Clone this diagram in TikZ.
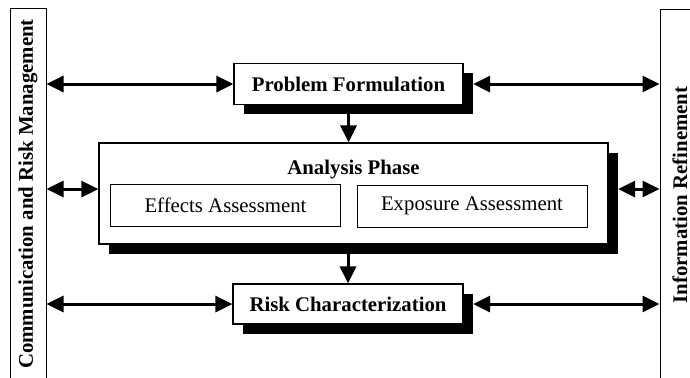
\documentclass[tikz,border=0pt]{standalone}
\usepackage{fontspec}
\setmainfont{Liberation Serif}
\usetikzlibrary{arrows.meta, positioning, calc, shadows}

\begin{document}
\begin{tikzpicture}[
    x=0.5pt, y=-0.5pt,
    every node/.style={font=\fontsize{10.4}{12}\selectfont},
    phase/.style={
        rectangle,
        draw=black,
        fill=white,
        line width=0.6pt,
        minimum width=#1,
        align=center,
        font=\fontsize{10.4}{12}\selectfont\bfseries,
        drop shadow={shadow xshift=4.75pt, shadow yshift=-4.75pt, fill=black, opacity=1}
    },
    assess/.style={
        rectangle,
        draw=black,
        fill=white,
        line width=0.5pt,
        minimum width=115pt,
        minimum height=21pt
    },
    sidebar/.style={
        rectangle,
        draw=black,
        line width=0.5pt,
        rotate=90,
        minimum width=186pt,
        minimum height=#1,
        font=\fontsize{10.4}{12}\selectfont\bfseries
    },
    biarrow/.style={
        {Triangle[length=8.5pt, width=8pt]}-{Triangle[length=8.5pt, width=8pt]},
        line width=1.5pt
    },
    arrow/.style={
        -{Triangle[length=8.5pt, width=8pt]},
        line width=1.5pt
    }
]

\clip (0,0) rectangle (690,377);

\node[sidebar=18pt] (comm) at (28,194) {Communication and Risk Management};
\node[sidebar=20pt] (info) at (680,195) {Information Refinement};

\node[phase=114.5pt, minimum height=20.5pt] (problem) at (348.5,84) {Problem Formulation};
\node[phase=254.5pt, minimum height=50.5pt] (analysis) at (353.5,193.5) {};
\node[font=\fontsize{10.4}{12}\selectfont\bfseries] (title) at (353.5,170) {Analysis Phase};
\node[assess] (effects) at (225.5,205.5) {Effects Assessment};
\node[assess] (exposure) at (472,206) {Exposure Assessment};
\node[phase=115pt, minimum height=20pt] (risk) at (348,304) {Risk Characterization};

\draw[biarrow] (problem.west -| comm.south) -- (problem.west);
\draw[biarrow] ([xshift=4.75pt]problem.east) -- (problem.east -| info.north);
\draw[biarrow] ([yshift=2.25pt]analysis.west -| comm.south) -- ([yshift=2.25pt]analysis.west);
\draw[biarrow] ([xshift=4.75pt, yshift=2.25pt]analysis.east) -- ([yshift=2.25pt]analysis.east -| info.north);
\draw[biarrow] (risk.west -| comm.south) -- (risk.west);
\draw[biarrow] ([xshift=4.75pt]risk.east) -- (risk.east -| info.north);

\draw[arrow] (problem.south) -- (problem.south |- analysis.north);
\draw[arrow] (analysis.south -| risk.north) -- (risk.north);

\end{tikzpicture}
\end{document}
